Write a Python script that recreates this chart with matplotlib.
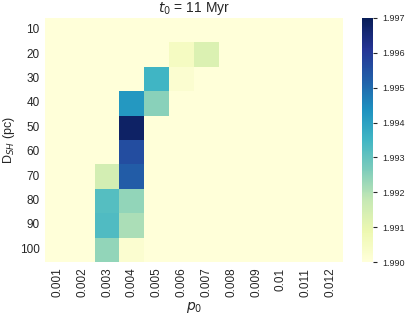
import matplotlib
matplotlib.use("Agg")
import matplotlib.pyplot as plt
import numpy as np
import pandas as pd
import seaborn as sns

d_sh = [10, 20, 30, 40, 50, 60, 70, 80, 90, 100]
p0 = ["0.001", "0.002", "0.003", "0.004", "0.005", "0.006",
      "0.007", "0.008", "0.009", "0.01", "0.011", "0.012"]

# values, rows = D_SH, columns = p0
base = 1.990
vals = np.full((len(d_sh), len(p0)), base)
vals[1, 5] = 1.9905
vals[1, 6] = 1.9913
vals[2, 4] = 1.9935
vals[2, 5] = 1.9902
vals[3, 3] = 1.9942
vals[3, 4] = 1.9925
vals[4, 3] = 1.9968
vals[5, 3] = 1.9956
vals[6, 2] = 1.9915
vals[6, 3] = 1.9953
vals[7, 2] = 1.9932
vals[7, 3] = 1.9924
vals[8, 2] = 1.9933
vals[8, 3] = 1.9921
vals[9, 2] = 1.9924
vals[9, 3] = 1.9902

data = pd.DataFrame(vals, index=d_sh, columns=p0)

sns.set_style("white")
plt.rcParams["font.family"] = ["Liberation Sans", "DejaVu Sans"]
plt.rcParams["mathtext.fontset"] = "dejavusans"

fig = plt.figure(figsize=(4.07, 3.15), dpi=100)
ax = fig.add_axes([0.1106, 0.168, 0.732, 0.775])
cax = fig.add_axes([0.889, 0.168, 0.027, 0.775])
sns.heatmap(data, cmap="YlGnBu", vmin=1.990, vmax=1.997, ax=ax, cbar_ax=cax)
ax.set_title("$t_0$ = 11 Myr", fontsize=10, pad=4)
ax.set_xlabel("$p_0$", fontsize=10, labelpad=2)
ax.set_ylabel("D$_{SH}$ (pc)", fontsize=9, labelpad=2)
ax.tick_params(axis="x", labelsize=8.5, rotation=90, length=0, pad=4)
ax.tick_params(axis="y", labelsize=8.5, rotation=0, length=0, pad=4)
cax.tick_params(labelsize=6.5, length=3)
cax.set_yticks([1.990, 1.991, 1.992, 1.993, 1.994, 1.995, 1.996, 1.997])
cax.set_yticklabels(["1.990", "1.991", "1.992", "1.993", "1.994", "1.995", "1.996", "1.997"])

fig.savefig("out.png", dpi=100)
